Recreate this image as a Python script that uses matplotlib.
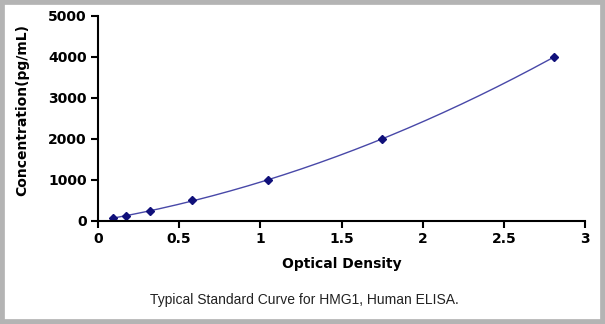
import numpy as np
import matplotlib
matplotlib.use("Agg")
import matplotlib.pyplot as plt
from matplotlib.patches import Rectangle

od = [0.09, 0.17, 0.32, 0.58, 1.05, 1.75, 2.81]
conc = [62.5, 125, 250, 500, 1000, 2000, 4000]
x_ticks = [0, 0.5, 1, 1.5, 2, 2.5, 3]
x_tick_labels = ["0", "0.5", "1", "1.5", "2", "2.5", "3"]
y_ticks = [0, 1000, 2000, 3000, 4000, 5000]

plt.rcParams['font.family'] = ['Liberation Sans', 'DejaVu Sans']
bold_font = dict(family="DejaVu Sans", weight="bold", size=10)

fig = plt.figure(figsize=(6.05, 3.24), dpi=100)
# cadre gris autour de l'image
fig.patches.append(Rectangle((0, 0), 1, 1, transform=fig.transFigure,
                             fill=False, edgecolor="#b4b4b4", linewidth=7))
ax = fig.add_axes([0.162, 0.318, 0.805, 0.633])

# courbe ajustee (polynome) a travers les points
coef = np.polyfit(od, conc, 2)
xs = np.linspace(min(od), max(od), 200)
ax.plot(xs, np.polyval(coef, xs), color="#4848a8", linewidth=1)
ax.plot(od, conc, linestyle="none", marker="D", markersize=4,
        color="#10107a")

ax.set_xlim(0, 3)
ax.set_ylim(0, 5000)
ax.set_xticks(x_ticks)
ax.set_xticklabels(x_tick_labels)
ax.set_yticks(y_ticks)
for s in ["top", "right"]:
    ax.spines[s].set_visible(False)
for s in ["left", "bottom"]:
    ax.spines[s].set_linewidth(1.5)
ax.tick_params(direction="out", length=5, width=1.5, pad=3)
for lab in ax.get_xticklabels() + ax.get_yticklabels():
    lab.set_fontproperties(bold_font)

ax.set_xlabel("Optical Density", fontdict=bold_font, labelpad=8)
ax.set_ylabel("Concentration(pg/mL)", fontdict=bold_font)
ax.yaxis.set_label_coords(-0.142, 0.54)
fig.text(0.248, 0.075, "Typical Standard Curve for HMG1, Human ELISA.",
         ha="left", va="center", fontsize=10, color="#222222")

plt.savefig("out.png", dpi=100)
